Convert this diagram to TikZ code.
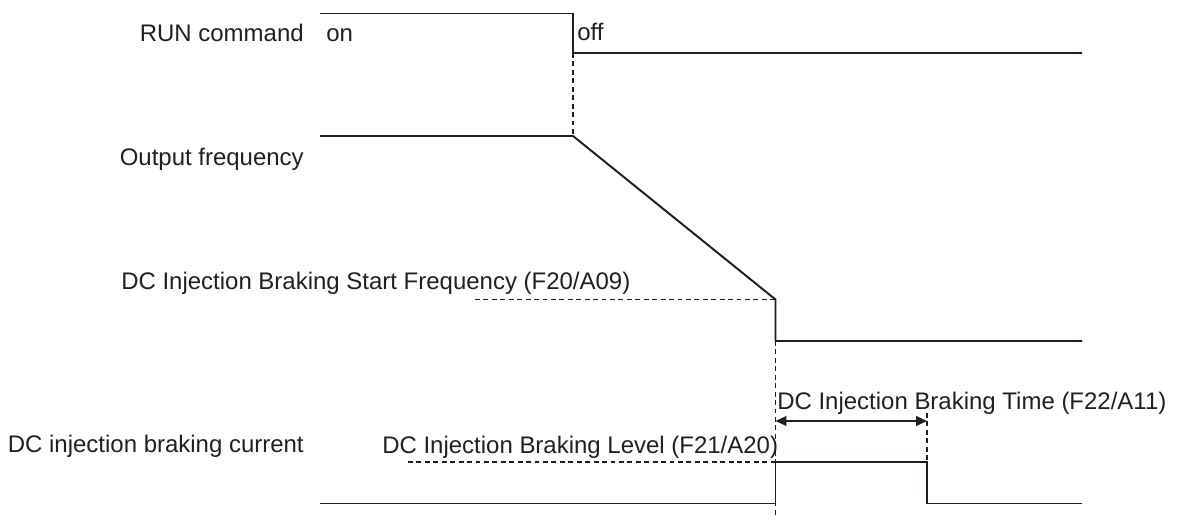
\documentclass[tikz,border=0pt]{standalone}
\usepackage{amsmath}
\usepackage{fontspec}
\setmainfont{Liberation Sans}
\usetikzlibrary{arrows.meta}
\definecolor{tinta}{RGB}{35,31,32}

\begin{document}
\begin{tikzpicture}[x=0.025cm, y=-0.025cm, color=tinta,
    senyal/.style={line width=1.4pt, line join=miter},
    guia/.style={line width=0.9pt, dash pattern=on 3.5pt off 2.5pt},
    etiqueta/.style={inner sep=0pt, font=\fontsize{17.05}{20}\selectfont}]
    \useasboundingbox (0,0) rectangle (1182,521);

    % Instants clau
    \coordinate (tOff) at (573,53);
    \coordinate (tFre) at (775.5,299.5);
    \coordinate (iniDC) at (775.5,421);
    \coordinate (fiDC) at (927,421);

    % Ordre RUN
    \draw[senyal] (320,13.5) -- (573,13.5) -- (tOff) -- (1082,53);
    \node[etiqueta, anchor=base east] (run) at (304,41.7) {RUN command};
    \node[etiqueta, anchor=base west] (on) at (326,41.7) {on};
    \node[etiqueta, anchor=base west] (off) at (577,40) {off};

    % Freqüència de sortida
    \draw[guia] (tOff) -- (573,136);
    \draw[senyal] (320,136) -- (573,136) -- (tFre) -- (775.5,341) -- (1082,341);
    \node[etiqueta, anchor=base east] (freq) at (304,165) {Output frequency};
    \draw[guia] (475,299.5) -- (tFre);
    \node[etiqueta, anchor=base west] (fini) at (121,289.3) {DC Injection Braking Start Frequency (F20/A09)};

    % --- FRENADA PER INJECCIÓ DE CC ---
    \draw[guia] (775.5,341) -- (775.5,517);
    \draw[guia] (927,413) -- (927,462);
    \draw[guia] (408,462) -- (775.5,462);
    \draw[senyal] (320,503.5) -- (775.5,503.5) -- (775.5,462) -- (927,462) -- (927,503.5) -- (1082,503.5);
    \draw[line width=1pt, {Triangle[length=7.8pt,width=7pt]}-{Triangle[length=7.8pt,width=7pt]}] (iniDC) -- (fiDC);
    \node[etiqueta, anchor=base west] (temps) at (777,409.3) {DC Injection Braking Time (F22/A11)};
    \node[etiqueta, anchor=base east] (corrent) at (304,452.7) {DC injection braking current};
    \node[etiqueta, anchor=base west] (nivell) at (382,453.3) {DC Injection Braking Level (F21/A20)};
\end{tikzpicture}
\end{document}
